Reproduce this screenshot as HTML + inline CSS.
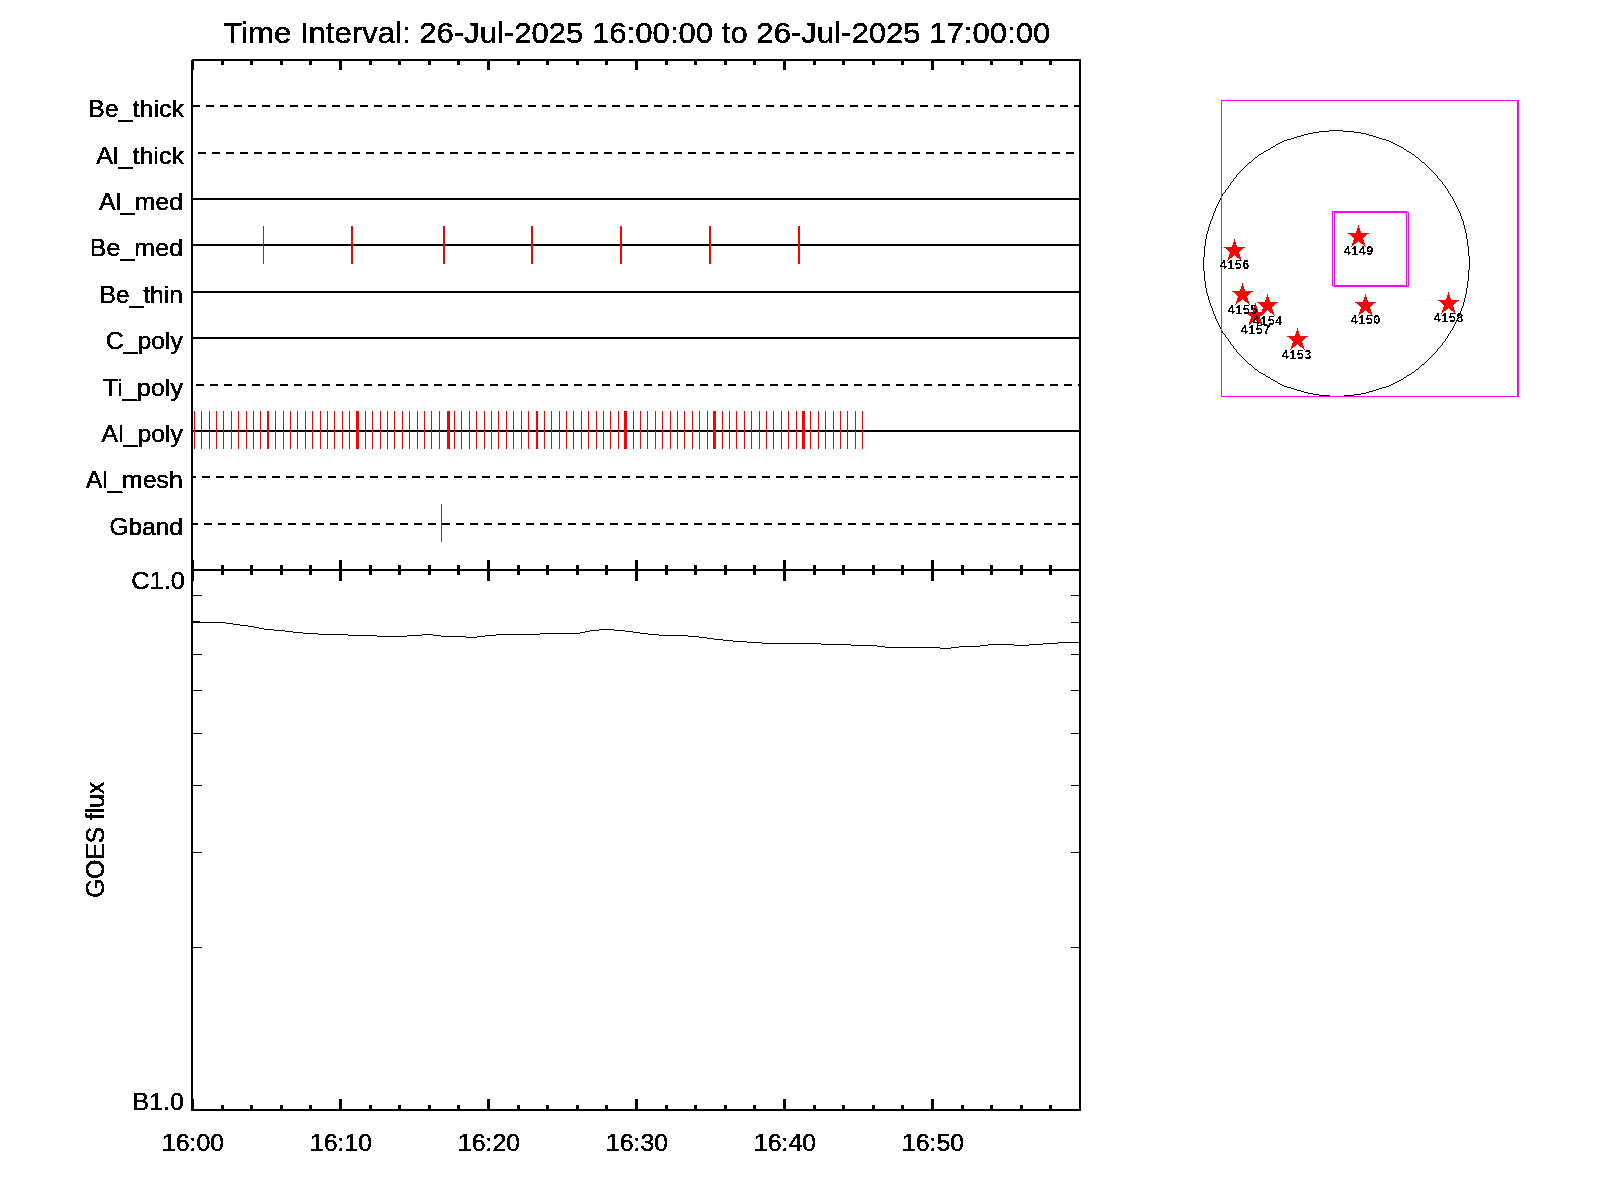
<!DOCTYPE html>
<html><head><meta charset="utf-8"><title>Time Interval: 26-Jul-2025 16:00:00 to 26-Jul-2025 17:00:00</title><style>
html,body{margin:0;padding:0;background:#fff;overflow:hidden;}
svg{display:block;}
.t text{font-family:"Liberation Sans",Arial,Helvetica,sans-serif;fill:#000;}
.s text{font-family:"Liberation Mono","Courier New",monospace;font-weight:bold;fill:#000;}
</style></head><body>
<svg width="1600" height="1200" viewBox="0 0 1600 1200">
<defs><filter id="a1" x="0" y="0" width="1600" height="1200" filterUnits="userSpaceOnUse"><feComponentTransfer><feFuncA type="discrete" tableValues="0 1 1 1 1"/></feComponentTransfer></filter><filter id="a2" x="0" y="0" width="1600" height="1200" filterUnits="userSpaceOnUse"><feComponentTransfer><feFuncA type="discrete" tableValues="0 1"/></feComponentTransfer></filter></defs>
<rect x="0" y="0" width="1600" height="1200" fill="#fff"/>
<g shape-rendering="crispEdges">
<rect x="192" y="59" width="889" height="2" fill="#000"/>
<rect x="191" y="569" width="890" height="2" fill="#000"/>
<rect x="191" y="1109" width="890" height="2" fill="#000"/>
<rect x="191" y="60" width="2" height="1051" fill="#000"/>
<rect x="1079" y="59" width="2" height="1052" fill="#000"/>
<rect x="191" y="60" width="3" height="10" fill="#000"/>
<rect x="191" y="560" width="3" height="21" fill="#000"/>
<rect x="191" y="1099" width="3" height="12" fill="#000"/>
<rect x="221" y="59" width="3" height="6" fill="#000"/>
<rect x="221" y="565" width="3" height="10" fill="#000"/>
<rect x="221" y="1105" width="3" height="6" fill="#000"/>
<rect x="250" y="59" width="3" height="6" fill="#000"/>
<rect x="250" y="565" width="3" height="10" fill="#000"/>
<rect x="250" y="1105" width="3" height="6" fill="#000"/>
<rect x="280" y="59" width="3" height="6" fill="#000"/>
<rect x="280" y="565" width="3" height="10" fill="#000"/>
<rect x="280" y="1105" width="3" height="6" fill="#000"/>
<rect x="309" y="59" width="3" height="6" fill="#000"/>
<rect x="309" y="565" width="3" height="10" fill="#000"/>
<rect x="309" y="1105" width="3" height="6" fill="#000"/>
<rect x="339" y="59" width="3" height="11" fill="#000"/>
<rect x="339" y="560" width="3" height="21" fill="#000"/>
<rect x="339" y="1099" width="3" height="12" fill="#000"/>
<rect x="369" y="59" width="3" height="6" fill="#000"/>
<rect x="369" y="565" width="3" height="10" fill="#000"/>
<rect x="369" y="1105" width="3" height="6" fill="#000"/>
<rect x="398" y="59" width="3" height="6" fill="#000"/>
<rect x="398" y="565" width="3" height="10" fill="#000"/>
<rect x="398" y="1105" width="3" height="6" fill="#000"/>
<rect x="428" y="59" width="3" height="6" fill="#000"/>
<rect x="428" y="565" width="3" height="10" fill="#000"/>
<rect x="428" y="1105" width="3" height="6" fill="#000"/>
<rect x="457" y="59" width="3" height="6" fill="#000"/>
<rect x="457" y="565" width="3" height="10" fill="#000"/>
<rect x="457" y="1105" width="3" height="6" fill="#000"/>
<rect x="487" y="59" width="3" height="11" fill="#000"/>
<rect x="487" y="560" width="3" height="21" fill="#000"/>
<rect x="487" y="1099" width="3" height="12" fill="#000"/>
<rect x="517" y="59" width="3" height="6" fill="#000"/>
<rect x="517" y="565" width="3" height="10" fill="#000"/>
<rect x="517" y="1105" width="3" height="6" fill="#000"/>
<rect x="546" y="59" width="3" height="6" fill="#000"/>
<rect x="546" y="565" width="3" height="10" fill="#000"/>
<rect x="546" y="1105" width="3" height="6" fill="#000"/>
<rect x="576" y="59" width="3" height="6" fill="#000"/>
<rect x="576" y="565" width="3" height="10" fill="#000"/>
<rect x="576" y="1105" width="3" height="6" fill="#000"/>
<rect x="605" y="59" width="3" height="6" fill="#000"/>
<rect x="605" y="565" width="3" height="10" fill="#000"/>
<rect x="605" y="1105" width="3" height="6" fill="#000"/>
<rect x="635" y="59" width="3" height="11" fill="#000"/>
<rect x="635" y="560" width="3" height="21" fill="#000"/>
<rect x="635" y="1099" width="3" height="12" fill="#000"/>
<rect x="665" y="59" width="3" height="6" fill="#000"/>
<rect x="665" y="565" width="3" height="10" fill="#000"/>
<rect x="665" y="1105" width="3" height="6" fill="#000"/>
<rect x="694" y="59" width="3" height="6" fill="#000"/>
<rect x="694" y="565" width="3" height="10" fill="#000"/>
<rect x="694" y="1105" width="3" height="6" fill="#000"/>
<rect x="724" y="59" width="3" height="6" fill="#000"/>
<rect x="724" y="565" width="3" height="10" fill="#000"/>
<rect x="724" y="1105" width="3" height="6" fill="#000"/>
<rect x="753" y="59" width="3" height="6" fill="#000"/>
<rect x="753" y="565" width="3" height="10" fill="#000"/>
<rect x="753" y="1105" width="3" height="6" fill="#000"/>
<rect x="783" y="59" width="3" height="11" fill="#000"/>
<rect x="783" y="560" width="3" height="21" fill="#000"/>
<rect x="783" y="1099" width="3" height="12" fill="#000"/>
<rect x="813" y="59" width="3" height="6" fill="#000"/>
<rect x="813" y="565" width="3" height="10" fill="#000"/>
<rect x="813" y="1105" width="3" height="6" fill="#000"/>
<rect x="842" y="59" width="3" height="6" fill="#000"/>
<rect x="842" y="565" width="3" height="10" fill="#000"/>
<rect x="842" y="1105" width="3" height="6" fill="#000"/>
<rect x="872" y="59" width="3" height="6" fill="#000"/>
<rect x="872" y="565" width="3" height="10" fill="#000"/>
<rect x="872" y="1105" width="3" height="6" fill="#000"/>
<rect x="901" y="59" width="3" height="6" fill="#000"/>
<rect x="901" y="565" width="3" height="10" fill="#000"/>
<rect x="901" y="1105" width="3" height="6" fill="#000"/>
<rect x="931" y="59" width="3" height="11" fill="#000"/>
<rect x="931" y="560" width="3" height="21" fill="#000"/>
<rect x="931" y="1099" width="3" height="12" fill="#000"/>
<rect x="961" y="59" width="3" height="6" fill="#000"/>
<rect x="961" y="565" width="3" height="10" fill="#000"/>
<rect x="961" y="1105" width="3" height="6" fill="#000"/>
<rect x="990" y="59" width="3" height="6" fill="#000"/>
<rect x="990" y="565" width="3" height="10" fill="#000"/>
<rect x="990" y="1105" width="3" height="6" fill="#000"/>
<rect x="1020" y="59" width="3" height="6" fill="#000"/>
<rect x="1020" y="565" width="3" height="10" fill="#000"/>
<rect x="1020" y="1105" width="3" height="6" fill="#000"/>
<rect x="1049" y="59" width="3" height="6" fill="#000"/>
<rect x="1049" y="565" width="3" height="10" fill="#000"/>
<rect x="1049" y="1105" width="3" height="6" fill="#000"/>
<rect x="193" y="105" width="7" height="2" fill="#000"/>
<rect x="206" y="105" width="8" height="2" fill="#000"/>
<rect x="220" y="105" width="8" height="2" fill="#000"/>
<rect x="234" y="105" width="8" height="2" fill="#000"/>
<rect x="248" y="105" width="8" height="2" fill="#000"/>
<rect x="262" y="105" width="8" height="2" fill="#000"/>
<rect x="276" y="105" width="8" height="2" fill="#000"/>
<rect x="290" y="105" width="8" height="2" fill="#000"/>
<rect x="304" y="105" width="8" height="2" fill="#000"/>
<rect x="318" y="105" width="8" height="2" fill="#000"/>
<rect x="332" y="105" width="8" height="2" fill="#000"/>
<rect x="346" y="105" width="8" height="2" fill="#000"/>
<rect x="360" y="105" width="8" height="2" fill="#000"/>
<rect x="374" y="105" width="8" height="2" fill="#000"/>
<rect x="388" y="105" width="8" height="2" fill="#000"/>
<rect x="402" y="105" width="8" height="2" fill="#000"/>
<rect x="416" y="105" width="8" height="2" fill="#000"/>
<rect x="430" y="105" width="8" height="2" fill="#000"/>
<rect x="444" y="105" width="8" height="2" fill="#000"/>
<rect x="458" y="105" width="8" height="2" fill="#000"/>
<rect x="472" y="105" width="8" height="2" fill="#000"/>
<rect x="486" y="105" width="8" height="2" fill="#000"/>
<rect x="500" y="105" width="8" height="2" fill="#000"/>
<rect x="514" y="105" width="8" height="2" fill="#000"/>
<rect x="528" y="105" width="8" height="2" fill="#000"/>
<rect x="542" y="105" width="8" height="2" fill="#000"/>
<rect x="556" y="105" width="8" height="2" fill="#000"/>
<rect x="570" y="105" width="8" height="2" fill="#000"/>
<rect x="584" y="105" width="8" height="2" fill="#000"/>
<rect x="598" y="105" width="8" height="2" fill="#000"/>
<rect x="612" y="105" width="8" height="2" fill="#000"/>
<rect x="626" y="105" width="8" height="2" fill="#000"/>
<rect x="640" y="105" width="8" height="2" fill="#000"/>
<rect x="654" y="105" width="8" height="2" fill="#000"/>
<rect x="668" y="105" width="8" height="2" fill="#000"/>
<rect x="682" y="105" width="8" height="2" fill="#000"/>
<rect x="696" y="105" width="8" height="2" fill="#000"/>
<rect x="710" y="105" width="8" height="2" fill="#000"/>
<rect x="724" y="105" width="8" height="2" fill="#000"/>
<rect x="738" y="105" width="8" height="2" fill="#000"/>
<rect x="752" y="105" width="8" height="2" fill="#000"/>
<rect x="766" y="105" width="8" height="2" fill="#000"/>
<rect x="780" y="105" width="8" height="2" fill="#000"/>
<rect x="794" y="105" width="8" height="2" fill="#000"/>
<rect x="808" y="105" width="8" height="2" fill="#000"/>
<rect x="822" y="105" width="8" height="2" fill="#000"/>
<rect x="836" y="105" width="8" height="2" fill="#000"/>
<rect x="850" y="105" width="8" height="2" fill="#000"/>
<rect x="864" y="105" width="8" height="2" fill="#000"/>
<rect x="878" y="105" width="8" height="2" fill="#000"/>
<rect x="892" y="105" width="8" height="2" fill="#000"/>
<rect x="906" y="105" width="8" height="2" fill="#000"/>
<rect x="920" y="105" width="8" height="2" fill="#000"/>
<rect x="934" y="105" width="8" height="2" fill="#000"/>
<rect x="948" y="105" width="8" height="2" fill="#000"/>
<rect x="962" y="105" width="8" height="2" fill="#000"/>
<rect x="976" y="105" width="8" height="2" fill="#000"/>
<rect x="990" y="105" width="8" height="2" fill="#000"/>
<rect x="1004" y="105" width="8" height="2" fill="#000"/>
<rect x="1018" y="105" width="8" height="2" fill="#000"/>
<rect x="1032" y="105" width="8" height="2" fill="#000"/>
<rect x="1046" y="105" width="8" height="2" fill="#000"/>
<rect x="1060" y="105" width="8" height="2" fill="#000"/>
<rect x="1074" y="105" width="5" height="2" fill="#000"/>
<rect x="198" y="152" width="8" height="2" fill="#000"/>
<rect x="212" y="152" width="8" height="2" fill="#000"/>
<rect x="226" y="152" width="8" height="2" fill="#000"/>
<rect x="240" y="152" width="8" height="2" fill="#000"/>
<rect x="254" y="152" width="8" height="2" fill="#000"/>
<rect x="268" y="152" width="8" height="2" fill="#000"/>
<rect x="282" y="152" width="8" height="2" fill="#000"/>
<rect x="296" y="152" width="8" height="2" fill="#000"/>
<rect x="310" y="152" width="8" height="2" fill="#000"/>
<rect x="324" y="152" width="8" height="2" fill="#000"/>
<rect x="338" y="152" width="8" height="2" fill="#000"/>
<rect x="352" y="152" width="8" height="2" fill="#000"/>
<rect x="366" y="152" width="8" height="2" fill="#000"/>
<rect x="380" y="152" width="8" height="2" fill="#000"/>
<rect x="394" y="152" width="8" height="2" fill="#000"/>
<rect x="408" y="152" width="8" height="2" fill="#000"/>
<rect x="422" y="152" width="8" height="2" fill="#000"/>
<rect x="436" y="152" width="8" height="2" fill="#000"/>
<rect x="450" y="152" width="8" height="2" fill="#000"/>
<rect x="464" y="152" width="8" height="2" fill="#000"/>
<rect x="478" y="152" width="8" height="2" fill="#000"/>
<rect x="492" y="152" width="8" height="2" fill="#000"/>
<rect x="506" y="152" width="8" height="2" fill="#000"/>
<rect x="520" y="152" width="8" height="2" fill="#000"/>
<rect x="534" y="152" width="8" height="2" fill="#000"/>
<rect x="548" y="152" width="8" height="2" fill="#000"/>
<rect x="562" y="152" width="8" height="2" fill="#000"/>
<rect x="576" y="152" width="8" height="2" fill="#000"/>
<rect x="590" y="152" width="8" height="2" fill="#000"/>
<rect x="604" y="152" width="8" height="2" fill="#000"/>
<rect x="618" y="152" width="8" height="2" fill="#000"/>
<rect x="632" y="152" width="8" height="2" fill="#000"/>
<rect x="646" y="152" width="8" height="2" fill="#000"/>
<rect x="660" y="152" width="8" height="2" fill="#000"/>
<rect x="674" y="152" width="8" height="2" fill="#000"/>
<rect x="688" y="152" width="8" height="2" fill="#000"/>
<rect x="702" y="152" width="8" height="2" fill="#000"/>
<rect x="716" y="152" width="8" height="2" fill="#000"/>
<rect x="730" y="152" width="8" height="2" fill="#000"/>
<rect x="744" y="152" width="8" height="2" fill="#000"/>
<rect x="758" y="152" width="8" height="2" fill="#000"/>
<rect x="772" y="152" width="8" height="2" fill="#000"/>
<rect x="786" y="152" width="8" height="2" fill="#000"/>
<rect x="800" y="152" width="8" height="2" fill="#000"/>
<rect x="814" y="152" width="8" height="2" fill="#000"/>
<rect x="828" y="152" width="8" height="2" fill="#000"/>
<rect x="842" y="152" width="8" height="2" fill="#000"/>
<rect x="856" y="152" width="8" height="2" fill="#000"/>
<rect x="870" y="152" width="8" height="2" fill="#000"/>
<rect x="884" y="152" width="8" height="2" fill="#000"/>
<rect x="898" y="152" width="8" height="2" fill="#000"/>
<rect x="912" y="152" width="8" height="2" fill="#000"/>
<rect x="926" y="152" width="8" height="2" fill="#000"/>
<rect x="940" y="152" width="8" height="2" fill="#000"/>
<rect x="954" y="152" width="8" height="2" fill="#000"/>
<rect x="968" y="152" width="8" height="2" fill="#000"/>
<rect x="982" y="152" width="8" height="2" fill="#000"/>
<rect x="996" y="152" width="8" height="2" fill="#000"/>
<rect x="1010" y="152" width="8" height="2" fill="#000"/>
<rect x="1024" y="152" width="8" height="2" fill="#000"/>
<rect x="1038" y="152" width="8" height="2" fill="#000"/>
<rect x="1052" y="152" width="8" height="2" fill="#000"/>
<rect x="1066" y="152" width="8" height="2" fill="#000"/>
<rect x="193" y="198" width="886" height="2" fill="#000"/>
<rect x="193" y="244" width="886" height="2" fill="#000"/>
<rect x="193" y="291" width="886" height="2" fill="#000"/>
<rect x="193" y="337" width="886" height="2" fill="#000"/>
<rect x="196" y="384" width="8" height="2" fill="#000"/>
<rect x="210" y="384" width="8" height="2" fill="#000"/>
<rect x="224" y="384" width="8" height="2" fill="#000"/>
<rect x="238" y="384" width="8" height="2" fill="#000"/>
<rect x="252" y="384" width="8" height="2" fill="#000"/>
<rect x="266" y="384" width="8" height="2" fill="#000"/>
<rect x="280" y="384" width="8" height="2" fill="#000"/>
<rect x="294" y="384" width="8" height="2" fill="#000"/>
<rect x="308" y="384" width="8" height="2" fill="#000"/>
<rect x="322" y="384" width="8" height="2" fill="#000"/>
<rect x="336" y="384" width="8" height="2" fill="#000"/>
<rect x="350" y="384" width="8" height="2" fill="#000"/>
<rect x="364" y="384" width="8" height="2" fill="#000"/>
<rect x="378" y="384" width="8" height="2" fill="#000"/>
<rect x="392" y="384" width="8" height="2" fill="#000"/>
<rect x="406" y="384" width="8" height="2" fill="#000"/>
<rect x="420" y="384" width="8" height="2" fill="#000"/>
<rect x="434" y="384" width="8" height="2" fill="#000"/>
<rect x="448" y="384" width="8" height="2" fill="#000"/>
<rect x="462" y="384" width="8" height="2" fill="#000"/>
<rect x="476" y="384" width="8" height="2" fill="#000"/>
<rect x="490" y="384" width="8" height="2" fill="#000"/>
<rect x="504" y="384" width="8" height="2" fill="#000"/>
<rect x="518" y="384" width="8" height="2" fill="#000"/>
<rect x="532" y="384" width="8" height="2" fill="#000"/>
<rect x="546" y="384" width="8" height="2" fill="#000"/>
<rect x="560" y="384" width="8" height="2" fill="#000"/>
<rect x="574" y="384" width="8" height="2" fill="#000"/>
<rect x="588" y="384" width="8" height="2" fill="#000"/>
<rect x="602" y="384" width="8" height="2" fill="#000"/>
<rect x="616" y="384" width="8" height="2" fill="#000"/>
<rect x="630" y="384" width="8" height="2" fill="#000"/>
<rect x="644" y="384" width="8" height="2" fill="#000"/>
<rect x="658" y="384" width="8" height="2" fill="#000"/>
<rect x="672" y="384" width="8" height="2" fill="#000"/>
<rect x="686" y="384" width="8" height="2" fill="#000"/>
<rect x="700" y="384" width="8" height="2" fill="#000"/>
<rect x="714" y="384" width="8" height="2" fill="#000"/>
<rect x="728" y="384" width="8" height="2" fill="#000"/>
<rect x="742" y="384" width="8" height="2" fill="#000"/>
<rect x="756" y="384" width="8" height="2" fill="#000"/>
<rect x="770" y="384" width="8" height="2" fill="#000"/>
<rect x="784" y="384" width="8" height="2" fill="#000"/>
<rect x="798" y="384" width="8" height="2" fill="#000"/>
<rect x="812" y="384" width="8" height="2" fill="#000"/>
<rect x="826" y="384" width="8" height="2" fill="#000"/>
<rect x="840" y="384" width="8" height="2" fill="#000"/>
<rect x="854" y="384" width="8" height="2" fill="#000"/>
<rect x="868" y="384" width="8" height="2" fill="#000"/>
<rect x="882" y="384" width="8" height="2" fill="#000"/>
<rect x="896" y="384" width="8" height="2" fill="#000"/>
<rect x="910" y="384" width="8" height="2" fill="#000"/>
<rect x="924" y="384" width="8" height="2" fill="#000"/>
<rect x="938" y="384" width="8" height="2" fill="#000"/>
<rect x="952" y="384" width="8" height="2" fill="#000"/>
<rect x="966" y="384" width="8" height="2" fill="#000"/>
<rect x="980" y="384" width="8" height="2" fill="#000"/>
<rect x="994" y="384" width="8" height="2" fill="#000"/>
<rect x="1008" y="384" width="8" height="2" fill="#000"/>
<rect x="1022" y="384" width="8" height="2" fill="#000"/>
<rect x="1036" y="384" width="8" height="2" fill="#000"/>
<rect x="1050" y="384" width="8" height="2" fill="#000"/>
<rect x="1064" y="384" width="8" height="2" fill="#000"/>
<rect x="1078" y="384" width="1" height="2" fill="#000"/>
<rect x="193" y="430" width="886" height="2" fill="#000"/>
<rect x="193" y="476" width="3" height="2" fill="#000"/>
<rect x="202" y="476" width="8" height="2" fill="#000"/>
<rect x="216" y="476" width="8" height="2" fill="#000"/>
<rect x="230" y="476" width="8" height="2" fill="#000"/>
<rect x="244" y="476" width="8" height="2" fill="#000"/>
<rect x="258" y="476" width="8" height="2" fill="#000"/>
<rect x="272" y="476" width="8" height="2" fill="#000"/>
<rect x="286" y="476" width="8" height="2" fill="#000"/>
<rect x="300" y="476" width="8" height="2" fill="#000"/>
<rect x="314" y="476" width="8" height="2" fill="#000"/>
<rect x="328" y="476" width="8" height="2" fill="#000"/>
<rect x="342" y="476" width="8" height="2" fill="#000"/>
<rect x="356" y="476" width="8" height="2" fill="#000"/>
<rect x="370" y="476" width="8" height="2" fill="#000"/>
<rect x="384" y="476" width="8" height="2" fill="#000"/>
<rect x="398" y="476" width="8" height="2" fill="#000"/>
<rect x="412" y="476" width="8" height="2" fill="#000"/>
<rect x="426" y="476" width="8" height="2" fill="#000"/>
<rect x="440" y="476" width="8" height="2" fill="#000"/>
<rect x="454" y="476" width="8" height="2" fill="#000"/>
<rect x="468" y="476" width="8" height="2" fill="#000"/>
<rect x="482" y="476" width="8" height="2" fill="#000"/>
<rect x="496" y="476" width="8" height="2" fill="#000"/>
<rect x="510" y="476" width="8" height="2" fill="#000"/>
<rect x="524" y="476" width="8" height="2" fill="#000"/>
<rect x="538" y="476" width="8" height="2" fill="#000"/>
<rect x="552" y="476" width="8" height="2" fill="#000"/>
<rect x="566" y="476" width="8" height="2" fill="#000"/>
<rect x="580" y="476" width="8" height="2" fill="#000"/>
<rect x="594" y="476" width="8" height="2" fill="#000"/>
<rect x="608" y="476" width="8" height="2" fill="#000"/>
<rect x="622" y="476" width="8" height="2" fill="#000"/>
<rect x="636" y="476" width="8" height="2" fill="#000"/>
<rect x="650" y="476" width="8" height="2" fill="#000"/>
<rect x="664" y="476" width="8" height="2" fill="#000"/>
<rect x="678" y="476" width="8" height="2" fill="#000"/>
<rect x="692" y="476" width="8" height="2" fill="#000"/>
<rect x="706" y="476" width="8" height="2" fill="#000"/>
<rect x="720" y="476" width="8" height="2" fill="#000"/>
<rect x="734" y="476" width="8" height="2" fill="#000"/>
<rect x="748" y="476" width="8" height="2" fill="#000"/>
<rect x="762" y="476" width="8" height="2" fill="#000"/>
<rect x="776" y="476" width="8" height="2" fill="#000"/>
<rect x="790" y="476" width="8" height="2" fill="#000"/>
<rect x="804" y="476" width="8" height="2" fill="#000"/>
<rect x="818" y="476" width="8" height="2" fill="#000"/>
<rect x="832" y="476" width="8" height="2" fill="#000"/>
<rect x="846" y="476" width="8" height="2" fill="#000"/>
<rect x="860" y="476" width="8" height="2" fill="#000"/>
<rect x="874" y="476" width="8" height="2" fill="#000"/>
<rect x="888" y="476" width="8" height="2" fill="#000"/>
<rect x="902" y="476" width="8" height="2" fill="#000"/>
<rect x="916" y="476" width="8" height="2" fill="#000"/>
<rect x="930" y="476" width="8" height="2" fill="#000"/>
<rect x="944" y="476" width="8" height="2" fill="#000"/>
<rect x="958" y="476" width="8" height="2" fill="#000"/>
<rect x="972" y="476" width="8" height="2" fill="#000"/>
<rect x="986" y="476" width="8" height="2" fill="#000"/>
<rect x="1000" y="476" width="8" height="2" fill="#000"/>
<rect x="1014" y="476" width="8" height="2" fill="#000"/>
<rect x="1028" y="476" width="8" height="2" fill="#000"/>
<rect x="1042" y="476" width="8" height="2" fill="#000"/>
<rect x="1056" y="476" width="8" height="2" fill="#000"/>
<rect x="1070" y="476" width="8" height="2" fill="#000"/>
<rect x="193" y="523" width="5" height="2" fill="#000"/>
<rect x="204" y="523" width="8" height="2" fill="#000"/>
<rect x="218" y="523" width="8" height="2" fill="#000"/>
<rect x="232" y="523" width="8" height="2" fill="#000"/>
<rect x="246" y="523" width="8" height="2" fill="#000"/>
<rect x="260" y="523" width="8" height="2" fill="#000"/>
<rect x="274" y="523" width="8" height="2" fill="#000"/>
<rect x="288" y="523" width="8" height="2" fill="#000"/>
<rect x="302" y="523" width="8" height="2" fill="#000"/>
<rect x="316" y="523" width="8" height="2" fill="#000"/>
<rect x="330" y="523" width="8" height="2" fill="#000"/>
<rect x="344" y="523" width="8" height="2" fill="#000"/>
<rect x="358" y="523" width="8" height="2" fill="#000"/>
<rect x="372" y="523" width="8" height="2" fill="#000"/>
<rect x="386" y="523" width="8" height="2" fill="#000"/>
<rect x="400" y="523" width="8" height="2" fill="#000"/>
<rect x="414" y="523" width="8" height="2" fill="#000"/>
<rect x="428" y="523" width="8" height="2" fill="#000"/>
<rect x="442" y="523" width="8" height="2" fill="#000"/>
<rect x="456" y="523" width="8" height="2" fill="#000"/>
<rect x="470" y="523" width="8" height="2" fill="#000"/>
<rect x="484" y="523" width="8" height="2" fill="#000"/>
<rect x="498" y="523" width="8" height="2" fill="#000"/>
<rect x="512" y="523" width="8" height="2" fill="#000"/>
<rect x="526" y="523" width="8" height="2" fill="#000"/>
<rect x="540" y="523" width="8" height="2" fill="#000"/>
<rect x="554" y="523" width="8" height="2" fill="#000"/>
<rect x="568" y="523" width="8" height="2" fill="#000"/>
<rect x="582" y="523" width="8" height="2" fill="#000"/>
<rect x="596" y="523" width="8" height="2" fill="#000"/>
<rect x="610" y="523" width="8" height="2" fill="#000"/>
<rect x="624" y="523" width="8" height="2" fill="#000"/>
<rect x="638" y="523" width="8" height="2" fill="#000"/>
<rect x="652" y="523" width="8" height="2" fill="#000"/>
<rect x="666" y="523" width="8" height="2" fill="#000"/>
<rect x="680" y="523" width="8" height="2" fill="#000"/>
<rect x="694" y="523" width="8" height="2" fill="#000"/>
<rect x="708" y="523" width="8" height="2" fill="#000"/>
<rect x="722" y="523" width="8" height="2" fill="#000"/>
<rect x="736" y="523" width="8" height="2" fill="#000"/>
<rect x="750" y="523" width="8" height="2" fill="#000"/>
<rect x="764" y="523" width="8" height="2" fill="#000"/>
<rect x="778" y="523" width="8" height="2" fill="#000"/>
<rect x="792" y="523" width="8" height="2" fill="#000"/>
<rect x="806" y="523" width="8" height="2" fill="#000"/>
<rect x="820" y="523" width="8" height="2" fill="#000"/>
<rect x="834" y="523" width="8" height="2" fill="#000"/>
<rect x="848" y="523" width="8" height="2" fill="#000"/>
<rect x="862" y="523" width="8" height="2" fill="#000"/>
<rect x="876" y="523" width="8" height="2" fill="#000"/>
<rect x="890" y="523" width="8" height="2" fill="#000"/>
<rect x="904" y="523" width="8" height="2" fill="#000"/>
<rect x="918" y="523" width="8" height="2" fill="#000"/>
<rect x="932" y="523" width="8" height="2" fill="#000"/>
<rect x="946" y="523" width="8" height="2" fill="#000"/>
<rect x="960" y="523" width="8" height="2" fill="#000"/>
<rect x="974" y="523" width="8" height="2" fill="#000"/>
<rect x="988" y="523" width="8" height="2" fill="#000"/>
<rect x="1002" y="523" width="8" height="2" fill="#000"/>
<rect x="1016" y="523" width="8" height="2" fill="#000"/>
<rect x="1030" y="523" width="8" height="2" fill="#000"/>
<rect x="1044" y="523" width="8" height="2" fill="#000"/>
<rect x="1058" y="523" width="8" height="2" fill="#000"/>
<rect x="1072" y="523" width="7" height="2" fill="#000"/>
<rect x="263" y="226" width="1" height="38" fill="#ff0000"/>
<rect x="351" y="226" width="2" height="38" fill="#ff0000"/>
<rect x="443" y="226" width="2" height="38" fill="#ff0000"/>
<rect x="531" y="226" width="2" height="38" fill="#ff0000"/>
<rect x="620" y="226" width="2" height="38" fill="#ff0000"/>
<rect x="709" y="226" width="2" height="38" fill="#ff0000"/>
<rect x="798" y="226" width="2" height="38" fill="#ff0000"/>
<rect x="194" y="411" width="1" height="38" fill="#ff0000"/>
<rect x="201" y="411" width="1" height="38" fill="#ff0000"/>
<rect x="209" y="411" width="1" height="38" fill="#ff0000"/>
<rect x="216" y="411" width="1" height="38" fill="#ff0000"/>
<rect x="223" y="411" width="1" height="38" fill="#ff0000"/>
<rect x="231" y="411" width="1" height="38" fill="#ff0000"/>
<rect x="238" y="411" width="1" height="38" fill="#ff0000"/>
<rect x="246" y="411" width="1" height="38" fill="#ff0000"/>
<rect x="253" y="411" width="1" height="38" fill="#ff0000"/>
<rect x="260" y="411" width="1" height="38" fill="#ff0000"/>
<rect x="275" y="411" width="1" height="38" fill="#ff0000"/>
<rect x="283" y="411" width="1" height="38" fill="#ff0000"/>
<rect x="290" y="411" width="1" height="38" fill="#ff0000"/>
<rect x="297" y="411" width="1" height="38" fill="#ff0000"/>
<rect x="305" y="411" width="1" height="38" fill="#ff0000"/>
<rect x="312" y="411" width="1" height="38" fill="#ff0000"/>
<rect x="320" y="411" width="1" height="38" fill="#ff0000"/>
<rect x="327" y="411" width="1" height="38" fill="#ff0000"/>
<rect x="334" y="411" width="1" height="38" fill="#ff0000"/>
<rect x="342" y="411" width="1" height="38" fill="#ff0000"/>
<rect x="349" y="411" width="1" height="38" fill="#ff0000"/>
<rect x="365" y="411" width="1" height="38" fill="#ff0000"/>
<rect x="372" y="411" width="1" height="38" fill="#ff0000"/>
<rect x="380" y="411" width="1" height="38" fill="#ff0000"/>
<rect x="387" y="411" width="1" height="38" fill="#ff0000"/>
<rect x="394" y="411" width="1" height="38" fill="#ff0000"/>
<rect x="402" y="411" width="1" height="38" fill="#ff0000"/>
<rect x="409" y="411" width="1" height="38" fill="#ff0000"/>
<rect x="417" y="411" width="1" height="38" fill="#ff0000"/>
<rect x="424" y="411" width="1" height="38" fill="#ff0000"/>
<rect x="431" y="411" width="1" height="38" fill="#ff0000"/>
<rect x="439" y="411" width="1" height="38" fill="#ff0000"/>
<rect x="454" y="411" width="1" height="38" fill="#ff0000"/>
<rect x="461" y="411" width="1" height="38" fill="#ff0000"/>
<rect x="469" y="411" width="1" height="38" fill="#ff0000"/>
<rect x="476" y="411" width="1" height="38" fill="#ff0000"/>
<rect x="484" y="411" width="1" height="38" fill="#ff0000"/>
<rect x="491" y="411" width="1" height="38" fill="#ff0000"/>
<rect x="498" y="411" width="1" height="38" fill="#ff0000"/>
<rect x="506" y="411" width="1" height="38" fill="#ff0000"/>
<rect x="513" y="411" width="1" height="38" fill="#ff0000"/>
<rect x="521" y="411" width="1" height="38" fill="#ff0000"/>
<rect x="528" y="411" width="1" height="38" fill="#ff0000"/>
<rect x="544" y="411" width="1" height="38" fill="#ff0000"/>
<rect x="551" y="411" width="1" height="38" fill="#ff0000"/>
<rect x="559" y="411" width="1" height="38" fill="#ff0000"/>
<rect x="566" y="411" width="1" height="38" fill="#ff0000"/>
<rect x="573" y="411" width="1" height="38" fill="#ff0000"/>
<rect x="581" y="411" width="1" height="38" fill="#ff0000"/>
<rect x="588" y="411" width="1" height="38" fill="#ff0000"/>
<rect x="596" y="411" width="1" height="38" fill="#ff0000"/>
<rect x="603" y="411" width="1" height="38" fill="#ff0000"/>
<rect x="610" y="411" width="1" height="38" fill="#ff0000"/>
<rect x="618" y="411" width="1" height="38" fill="#ff0000"/>
<rect x="633" y="411" width="1" height="38" fill="#ff0000"/>
<rect x="640" y="411" width="1" height="38" fill="#ff0000"/>
<rect x="647" y="411" width="1" height="38" fill="#ff0000"/>
<rect x="655" y="411" width="1" height="38" fill="#ff0000"/>
<rect x="662" y="411" width="1" height="38" fill="#ff0000"/>
<rect x="670" y="411" width="1" height="38" fill="#ff0000"/>
<rect x="677" y="411" width="1" height="38" fill="#ff0000"/>
<rect x="684" y="411" width="1" height="38" fill="#ff0000"/>
<rect x="692" y="411" width="1" height="38" fill="#ff0000"/>
<rect x="699" y="411" width="1" height="38" fill="#ff0000"/>
<rect x="707" y="411" width="1" height="38" fill="#ff0000"/>
<rect x="722" y="411" width="1" height="38" fill="#ff0000"/>
<rect x="729" y="411" width="1" height="38" fill="#ff0000"/>
<rect x="736" y="411" width="1" height="38" fill="#ff0000"/>
<rect x="744" y="411" width="1" height="38" fill="#ff0000"/>
<rect x="751" y="411" width="1" height="38" fill="#ff0000"/>
<rect x="759" y="411" width="1" height="38" fill="#ff0000"/>
<rect x="766" y="411" width="1" height="38" fill="#ff0000"/>
<rect x="773" y="411" width="1" height="38" fill="#ff0000"/>
<rect x="781" y="411" width="1" height="38" fill="#ff0000"/>
<rect x="788" y="411" width="1" height="38" fill="#ff0000"/>
<rect x="796" y="411" width="1" height="38" fill="#ff0000"/>
<rect x="810" y="411" width="1" height="38" fill="#ff0000"/>
<rect x="818" y="411" width="1" height="38" fill="#ff0000"/>
<rect x="825" y="411" width="1" height="38" fill="#ff0000"/>
<rect x="833" y="411" width="1" height="38" fill="#ff0000"/>
<rect x="840" y="411" width="1" height="38" fill="#ff0000"/>
<rect x="847" y="411" width="1" height="38" fill="#ff0000"/>
<rect x="855" y="411" width="1" height="38" fill="#ff0000"/>
<rect x="862" y="411" width="1" height="38" fill="#ff0000"/>
<rect x="267" y="411" width="2" height="38" fill="#ff0000"/>
<rect x="356" y="411" width="3" height="38" fill="#ff0000"/>
<rect x="447" y="411" width="3" height="38" fill="#ff0000"/>
<rect x="536" y="411" width="2" height="38" fill="#ff0000"/>
<rect x="624" y="411" width="3" height="38" fill="#ff0000"/>
<rect x="713" y="411" width="3" height="38" fill="#ff0000"/>
<rect x="802" y="411" width="3" height="38" fill="#ff0000"/>
<rect x="441" y="504" width="1" height="38" fill="#ff0000"/>
<rect x="193" y="947" width="9" height="1" fill="#000"/>
<rect x="1071" y="947" width="8" height="1" fill="#000"/>
<rect x="193" y="852" width="9" height="1" fill="#000"/>
<rect x="1071" y="852" width="8" height="1" fill="#000"/>
<rect x="193" y="785" width="9" height="1" fill="#000"/>
<rect x="1071" y="785" width="8" height="1" fill="#000"/>
<rect x="193" y="733" width="9" height="1" fill="#000"/>
<rect x="1071" y="733" width="8" height="1" fill="#000"/>
<rect x="193" y="690" width="9" height="1" fill="#000"/>
<rect x="1071" y="690" width="8" height="1" fill="#000"/>
<rect x="193" y="654" width="9" height="1" fill="#000"/>
<rect x="1071" y="654" width="8" height="1" fill="#000"/>
<rect x="193" y="622" width="9" height="1" fill="#000"/>
<rect x="1071" y="622" width="8" height="1" fill="#000"/>
<rect x="193" y="595" width="9" height="1" fill="#000"/>
<rect x="1071" y="595" width="8" height="1" fill="#000"/>
<rect x="192" y="622" width="34" height="1" fill="#000"/>
<rect x="226" y="623" width="7" height="1" fill="#000"/>
<rect x="233" y="624" width="7" height="1" fill="#000"/>
<rect x="240" y="625" width="8" height="1" fill="#000"/>
<rect x="248" y="626" width="6" height="1" fill="#000"/>
<rect x="254" y="627" width="5" height="1" fill="#000"/>
<rect x="259" y="628" width="5" height="1" fill="#000"/>
<rect x="264" y="629" width="10" height="1" fill="#000"/>
<rect x="274" y="630" width="11" height="1" fill="#000"/>
<rect x="285" y="631" width="8" height="1" fill="#000"/>
<rect x="293" y="632" width="10" height="1" fill="#000"/>
<rect x="303" y="633" width="15" height="1" fill="#000"/>
<rect x="318" y="634" width="30" height="1" fill="#000"/>
<rect x="348" y="635" width="29" height="1" fill="#000"/>
<rect x="377" y="636" width="30" height="1" fill="#000"/>
<rect x="407" y="635" width="15" height="1" fill="#000"/>
<rect x="422" y="634" width="11" height="1" fill="#000"/>
<rect x="433" y="635" width="8" height="1" fill="#000"/>
<rect x="441" y="636" width="25" height="1" fill="#000"/>
<rect x="466" y="637" width="11" height="1" fill="#000"/>
<rect x="477" y="636" width="8" height="1" fill="#000"/>
<rect x="485" y="635" width="11" height="1" fill="#000"/>
<rect x="496" y="634" width="44" height="1" fill="#000"/>
<rect x="540" y="633" width="40" height="1" fill="#000"/>
<rect x="580" y="632" width="5" height="1" fill="#000"/>
<rect x="585" y="631" width="5" height="1" fill="#000"/>
<rect x="590" y="630" width="9" height="1" fill="#000"/>
<rect x="599" y="629" width="15" height="1" fill="#000"/>
<rect x="614" y="630" width="11" height="1" fill="#000"/>
<rect x="625" y="631" width="8" height="1" fill="#000"/>
<rect x="633" y="632" width="7" height="1" fill="#000"/>
<rect x="640" y="633" width="8" height="1" fill="#000"/>
<rect x="648" y="634" width="11" height="1" fill="#000"/>
<rect x="659" y="635" width="29" height="1" fill="#000"/>
<rect x="688" y="636" width="11" height="1" fill="#000"/>
<rect x="699" y="637" width="8" height="1" fill="#000"/>
<rect x="707" y="638" width="7" height="1" fill="#000"/>
<rect x="714" y="639" width="9" height="1" fill="#000"/>
<rect x="723" y="640" width="10" height="1" fill="#000"/>
<rect x="733" y="641" width="14" height="1" fill="#000"/>
<rect x="747" y="642" width="15" height="1" fill="#000"/>
<rect x="762" y="643" width="59" height="1" fill="#000"/>
<rect x="821" y="644" width="30" height="1" fill="#000"/>
<rect x="851" y="645" width="26" height="1" fill="#000"/>
<rect x="877" y="646" width="8" height="1" fill="#000"/>
<rect x="885" y="647" width="55" height="1" fill="#000"/>
<rect x="940" y="648" width="11" height="1" fill="#000"/>
<rect x="951" y="647" width="8" height="1" fill="#000"/>
<rect x="959" y="646" width="21" height="1" fill="#000"/>
<rect x="980" y="645" width="8" height="1" fill="#000"/>
<rect x="988" y="644" width="26" height="1" fill="#000"/>
<rect x="1014" y="645" width="15" height="1" fill="#000"/>
<rect x="1029" y="644" width="14" height="1" fill="#000"/>
<rect x="1043" y="643" width="15" height="1" fill="#000"/>
<rect x="1058" y="642" width="21" height="1" fill="#000"/>
<rect x="193" y="621" width="7" height="1" fill="#000"/>
<rect x="1329" y="130" width="14" height="1" fill="#000"/>
<rect x="1319" y="131" width="10" height="1" fill="#000"/>
<rect x="1343" y="131" width="11" height="1" fill="#000"/>
<rect x="1313" y="132" width="6" height="1" fill="#000"/>
<rect x="1354" y="132" width="7" height="1" fill="#000"/>
<rect x="1308" y="133" width="5" height="1" fill="#000"/>
<rect x="1361" y="133" width="5" height="1" fill="#000"/>
<rect x="1304" y="134" width="4" height="1" fill="#000"/>
<rect x="1366" y="134" width="3" height="1" fill="#000"/>
<rect x="1301" y="135" width="3" height="1" fill="#000"/>
<rect x="1369" y="135" width="4" height="1" fill="#000"/>
<rect x="1297" y="136" width="4" height="1" fill="#000"/>
<rect x="1373" y="136" width="3" height="1" fill="#000"/>
<rect x="1294" y="137" width="3" height="1" fill="#000"/>
<rect x="1376" y="137" width="3" height="1" fill="#000"/>
<rect x="1291" y="138" width="3" height="1" fill="#000"/>
<rect x="1379" y="138" width="3" height="1" fill="#000"/>
<rect x="1287" y="139" width="4" height="1" fill="#000"/>
<rect x="1382" y="139" width="4" height="1" fill="#000"/>
<rect x="1284" y="140" width="3" height="1" fill="#000"/>
<rect x="1386" y="140" width="3" height="1" fill="#000"/>
<rect x="1282" y="141" width="2" height="1" fill="#000"/>
<rect x="1389" y="141" width="2" height="1" fill="#000"/>
<rect x="1280" y="142" width="2" height="1" fill="#000"/>
<rect x="1391" y="142" width="2" height="1" fill="#000"/>
<rect x="1278" y="143" width="2" height="1" fill="#000"/>
<rect x="1393" y="143" width="2" height="1" fill="#000"/>
<rect x="1276" y="144" width="2" height="1" fill="#000"/>
<rect x="1395" y="144" width="2" height="1" fill="#000"/>
<rect x="1275" y="145" width="1" height="1" fill="#000"/>
<rect x="1397" y="145" width="2" height="1" fill="#000"/>
<rect x="1273" y="146" width="2" height="1" fill="#000"/>
<rect x="1399" y="146" width="2" height="1" fill="#000"/>
<rect x="1271" y="147" width="2" height="1" fill="#000"/>
<rect x="1401" y="147" width="2" height="1" fill="#000"/>
<rect x="1270" y="148" width="1" height="1" fill="#000"/>
<rect x="1403" y="148" width="1" height="1" fill="#000"/>
<rect x="1268" y="149" width="2" height="1" fill="#000"/>
<rect x="1404" y="149" width="2" height="1" fill="#000"/>
<rect x="1266" y="150" width="2" height="1" fill="#000"/>
<rect x="1406" y="150" width="1" height="1" fill="#000"/>
<rect x="1264" y="151" width="2" height="1" fill="#000"/>
<rect x="1407" y="151" width="2" height="1" fill="#000"/>
<rect x="1263" y="152" width="1" height="1" fill="#000"/>
<rect x="1409" y="152" width="2" height="1" fill="#000"/>
<rect x="1261" y="153" width="2" height="1" fill="#000"/>
<rect x="1411" y="153" width="1" height="1" fill="#000"/>
<rect x="1259" y="154" width="2" height="1" fill="#000"/>
<rect x="1412" y="154" width="2" height="1" fill="#000"/>
<rect x="1258" y="155" width="1" height="1" fill="#000"/>
<rect x="1414" y="155" width="1" height="1" fill="#000"/>
<rect x="1257" y="156" width="1" height="1" fill="#000"/>
<rect x="1415" y="156" width="1" height="1" fill="#000"/>
<rect x="1255" y="157" width="2" height="1" fill="#000"/>
<rect x="1416" y="157" width="2" height="1" fill="#000"/>
<rect x="1254" y="158" width="1" height="1" fill="#000"/>
<rect x="1418" y="158" width="1" height="1" fill="#000"/>
<rect x="1253" y="159" width="1" height="1" fill="#000"/>
<rect x="1419" y="159" width="1" height="1" fill="#000"/>
<rect x="1252" y="160" width="1" height="1" fill="#000"/>
<rect x="1420" y="160" width="1" height="1" fill="#000"/>
<rect x="1251" y="161" width="1" height="1" fill="#000"/>
<rect x="1421" y="161" width="1" height="1" fill="#000"/>
<rect x="1249" y="162" width="2" height="1" fill="#000"/>
<rect x="1422" y="162" width="2" height="1" fill="#000"/>
<rect x="1248" y="163" width="1" height="1" fill="#000"/>
<rect x="1424" y="163" width="1" height="1" fill="#000"/>
<rect x="1247" y="164" width="1" height="1" fill="#000"/>
<rect x="1425" y="164" width="1" height="1" fill="#000"/>
<rect x="1246" y="165" width="1" height="1" fill="#000"/>
<rect x="1426" y="165" width="1" height="1" fill="#000"/>
<rect x="1245" y="166" width="1" height="1" fill="#000"/>
<rect x="1427" y="166" width="1" height="1" fill="#000"/>
<rect x="1244" y="167" width="1" height="1" fill="#000"/>
<rect x="1428" y="167" width="1" height="1" fill="#000"/>
<rect x="1243" y="168" width="1" height="1" fill="#000"/>
<rect x="1429" y="168" width="1" height="1" fill="#000"/>
<rect x="1242" y="169" width="1" height="1" fill="#000"/>
<rect x="1430" y="169" width="1" height="1" fill="#000"/>
<rect x="1241" y="170" width="1" height="1" fill="#000"/>
<rect x="1431" y="170" width="1" height="1" fill="#000"/>
<rect x="1240" y="171" width="1" height="1" fill="#000"/>
<rect x="1432" y="171" width="1" height="1" fill="#000"/>
<rect x="1239" y="172" width="1" height="1" fill="#000"/>
<rect x="1433" y="172" width="1" height="1" fill="#000"/>
<rect x="1238" y="173" width="1" height="1" fill="#000"/>
<rect x="1434" y="173" width="1" height="1" fill="#000"/>
<rect x="1237" y="174" width="1" height="1" fill="#000"/>
<rect x="1435" y="174" width="1" height="1" fill="#000"/>
<rect x="1236" y="175" width="1" height="1" fill="#000"/>
<rect x="1436" y="175" width="1" height="1" fill="#000"/>
<rect x="1236" y="176" width="1" height="1" fill="#000"/>
<rect x="1437" y="176" width="1" height="1" fill="#000"/>
<rect x="1235" y="177" width="1" height="1" fill="#000"/>
<rect x="1437" y="177" width="1" height="1" fill="#000"/>
<rect x="1234" y="178" width="1" height="1" fill="#000"/>
<rect x="1438" y="178" width="1" height="1" fill="#000"/>
<rect x="1233" y="179" width="1" height="1" fill="#000"/>
<rect x="1439" y="179" width="1" height="1" fill="#000"/>
<rect x="1233" y="180" width="1" height="1" fill="#000"/>
<rect x="1440" y="180" width="1" height="1" fill="#000"/>
<rect x="1232" y="181" width="1" height="1" fill="#000"/>
<rect x="1441" y="181" width="1" height="1" fill="#000"/>
<rect x="1231" y="182" width="1" height="1" fill="#000"/>
<rect x="1442" y="182" width="1" height="1" fill="#000"/>
<rect x="1230" y="183" width="1" height="1" fill="#000"/>
<rect x="1442" y="183" width="1" height="1" fill="#000"/>
<rect x="1230" y="184" width="1" height="1" fill="#000"/>
<rect x="1443" y="184" width="1" height="1" fill="#000"/>
<rect x="1229" y="185" width="1" height="1" fill="#000"/>
<rect x="1444" y="185" width="1" height="1" fill="#000"/>
<rect x="1228" y="186" width="1" height="1" fill="#000"/>
<rect x="1445" y="186" width="1" height="1" fill="#000"/>
<rect x="1228" y="187" width="1" height="1" fill="#000"/>
<rect x="1445" y="187" width="1" height="1" fill="#000"/>
<rect x="1227" y="188" width="1" height="1" fill="#000"/>
<rect x="1446" y="188" width="1" height="1" fill="#000"/>
<rect x="1226" y="189" width="1" height="1" fill="#000"/>
<rect x="1447" y="189" width="1" height="1" fill="#000"/>
<rect x="1225" y="190" width="1" height="1" fill="#000"/>
<rect x="1447" y="190" width="1" height="1" fill="#000"/>
<rect x="1225" y="191" width="1" height="1" fill="#000"/>
<rect x="1448" y="191" width="1" height="1" fill="#000"/>
<rect x="1224" y="192" width="1" height="1" fill="#000"/>
<rect x="1448" y="192" width="1" height="1" fill="#000"/>
<rect x="1223" y="193" width="1" height="1" fill="#000"/>
<rect x="1449" y="193" width="1" height="1" fill="#000"/>
<rect x="1222" y="194" width="1" height="1" fill="#000"/>
<rect x="1450" y="194" width="1" height="1" fill="#000"/>
<rect x="1222" y="195" width="1" height="1" fill="#000"/>
<rect x="1450" y="195" width="1" height="1" fill="#000"/>
<rect x="1221" y="196" width="1" height="1" fill="#000"/>
<rect x="1451" y="196" width="1" height="1" fill="#000"/>
<rect x="1221" y="197" width="1" height="1" fill="#000"/>
<rect x="1452" y="197" width="1" height="1" fill="#000"/>
<rect x="1220" y="198" width="1" height="1" fill="#000"/>
<rect x="1452" y="198" width="1" height="1" fill="#000"/>
<rect x="1220" y="199" width="1" height="1" fill="#000"/>
<rect x="1453" y="199" width="1" height="1" fill="#000"/>
<rect x="1219" y="200" width="1" height="1" fill="#000"/>
<rect x="1453" y="200" width="1" height="1" fill="#000"/>
<rect x="1219" y="201" width="1" height="1" fill="#000"/>
<rect x="1454" y="201" width="1" height="1" fill="#000"/>
<rect x="1218" y="202" width="1" height="1" fill="#000"/>
<rect x="1454" y="202" width="1" height="1" fill="#000"/>
<rect x="1218" y="203" width="1" height="1" fill="#000"/>
<rect x="1455" y="203" width="1" height="1" fill="#000"/>
<rect x="1217" y="204" width="1" height="1" fill="#000"/>
<rect x="1455" y="204" width="1" height="1" fill="#000"/>
<rect x="1217" y="205" width="1" height="1" fill="#000"/>
<rect x="1456" y="205" width="1" height="1" fill="#000"/>
<rect x="1216" y="206" width="1" height="1" fill="#000"/>
<rect x="1456" y="206" width="1" height="1" fill="#000"/>
<rect x="1216" y="207" width="1" height="1" fill="#000"/>
<rect x="1457" y="207" width="1" height="1" fill="#000"/>
<rect x="1215" y="208" width="1" height="1" fill="#000"/>
<rect x="1457" y="208" width="1" height="1" fill="#000"/>
<rect x="1215" y="209" width="1" height="1" fill="#000"/>
<rect x="1458" y="209" width="1" height="1" fill="#000"/>
<rect x="1215" y="210" width="1" height="1" fill="#000"/>
<rect x="1458" y="210" width="1" height="1" fill="#000"/>
<rect x="1214" y="211" width="1" height="1" fill="#000"/>
<rect x="1459" y="211" width="1" height="1" fill="#000"/>
<rect x="1214" y="212" width="1" height="1" fill="#000"/>
<rect x="1459" y="212" width="1" height="1" fill="#000"/>
<rect x="1213" y="213" width="1" height="1" fill="#000"/>
<rect x="1460" y="213" width="1" height="1" fill="#000"/>
<rect x="1213" y="214" width="1" height="1" fill="#000"/>
<rect x="1460" y="214" width="1" height="1" fill="#000"/>
<rect x="1213" y="215" width="1" height="1" fill="#000"/>
<rect x="1460" y="215" width="1" height="1" fill="#000"/>
<rect x="1212" y="216" width="1" height="1" fill="#000"/>
<rect x="1461" y="216" width="1" height="1" fill="#000"/>
<rect x="1212" y="217" width="1" height="1" fill="#000"/>
<rect x="1461" y="217" width="1" height="1" fill="#000"/>
<rect x="1212" y="218" width="1" height="1" fill="#000"/>
<rect x="1461" y="218" width="1" height="1" fill="#000"/>
<rect x="1211" y="219" width="1" height="1" fill="#000"/>
<rect x="1462" y="219" width="1" height="1" fill="#000"/>
<rect x="1211" y="220" width="1" height="1" fill="#000"/>
<rect x="1462" y="220" width="1" height="1" fill="#000"/>
<rect x="1210" y="221" width="1" height="1" fill="#000"/>
<rect x="1463" y="221" width="1" height="1" fill="#000"/>
<rect x="1210" y="222" width="1" height="1" fill="#000"/>
<rect x="1463" y="222" width="1" height="1" fill="#000"/>
<rect x="1210" y="223" width="1" height="1" fill="#000"/>
<rect x="1463" y="223" width="1" height="1" fill="#000"/>
<rect x="1209" y="224" width="1" height="1" fill="#000"/>
<rect x="1463" y="224" width="1" height="1" fill="#000"/>
<rect x="1209" y="225" width="1" height="1" fill="#000"/>
<rect x="1464" y="225" width="1" height="1" fill="#000"/>
<rect x="1209" y="226" width="1" height="1" fill="#000"/>
<rect x="1464" y="226" width="1" height="1" fill="#000"/>
<rect x="1208" y="227" width="1" height="1" fill="#000"/>
<rect x="1464" y="227" width="1" height="1" fill="#000"/>
<rect x="1208" y="228" width="1" height="1" fill="#000"/>
<rect x="1464" y="228" width="1" height="1" fill="#000"/>
<rect x="1208" y="229" width="1" height="1" fill="#000"/>
<rect x="1465" y="229" width="1" height="1" fill="#000"/>
<rect x="1208" y="230" width="1" height="1" fill="#000"/>
<rect x="1465" y="230" width="1" height="1" fill="#000"/>
<rect x="1207" y="231" width="1" height="1" fill="#000"/>
<rect x="1465" y="231" width="1" height="1" fill="#000"/>
<rect x="1207" y="232" width="1" height="1" fill="#000"/>
<rect x="1465" y="232" width="1" height="1" fill="#000"/>
<rect x="1207" y="233" width="1" height="1" fill="#000"/>
<rect x="1466" y="233" width="1" height="1" fill="#000"/>
<rect x="1206" y="234" width="1" height="1" fill="#000"/>
<rect x="1466" y="234" width="1" height="1" fill="#000"/>
<rect x="1206" y="235" width="1" height="1" fill="#000"/>
<rect x="1466" y="235" width="1" height="1" fill="#000"/>
<rect x="1206" y="236" width="1" height="1" fill="#000"/>
<rect x="1466" y="236" width="1" height="1" fill="#000"/>
<rect x="1206" y="237" width="1" height="1" fill="#000"/>
<rect x="1466" y="237" width="1" height="1" fill="#000"/>
<rect x="1206" y="238" width="1" height="1" fill="#000"/>
<rect x="1466" y="238" width="1" height="1" fill="#000"/>
<rect x="1205" y="239" width="1" height="1" fill="#000"/>
<rect x="1467" y="239" width="1" height="1" fill="#000"/>
<rect x="1205" y="240" width="1" height="1" fill="#000"/>
<rect x="1467" y="240" width="1" height="1" fill="#000"/>
<rect x="1205" y="241" width="1" height="1" fill="#000"/>
<rect x="1467" y="241" width="1" height="1" fill="#000"/>
<rect x="1205" y="242" width="1" height="1" fill="#000"/>
<rect x="1467" y="242" width="1" height="1" fill="#000"/>
<rect x="1205" y="243" width="1" height="1" fill="#000"/>
<rect x="1467" y="243" width="1" height="1" fill="#000"/>
<rect x="1205" y="244" width="1" height="1" fill="#000"/>
<rect x="1467" y="244" width="1" height="1" fill="#000"/>
<rect x="1205" y="245" width="1" height="1" fill="#000"/>
<rect x="1467" y="245" width="1" height="1" fill="#000"/>
<rect x="1204" y="246" width="1" height="1" fill="#000"/>
<rect x="1468" y="246" width="1" height="1" fill="#000"/>
<rect x="1204" y="247" width="1" height="1" fill="#000"/>
<rect x="1468" y="247" width="1" height="1" fill="#000"/>
<rect x="1204" y="248" width="1" height="1" fill="#000"/>
<rect x="1468" y="248" width="1" height="1" fill="#000"/>
<rect x="1204" y="249" width="1" height="1" fill="#000"/>
<rect x="1468" y="249" width="1" height="1" fill="#000"/>
<rect x="1204" y="250" width="1" height="1" fill="#000"/>
<rect x="1468" y="250" width="1" height="1" fill="#000"/>
<rect x="1204" y="251" width="1" height="1" fill="#000"/>
<rect x="1468" y="251" width="1" height="1" fill="#000"/>
<rect x="1204" y="252" width="1" height="1" fill="#000"/>
<rect x="1468" y="252" width="1" height="1" fill="#000"/>
<rect x="1204" y="253" width="1" height="1" fill="#000"/>
<rect x="1468" y="253" width="1" height="1" fill="#000"/>
<rect x="1204" y="254" width="1" height="1" fill="#000"/>
<rect x="1468" y="254" width="1" height="1" fill="#000"/>
<rect x="1204" y="255" width="1" height="1" fill="#000"/>
<rect x="1468" y="255" width="1" height="1" fill="#000"/>
<rect x="1204" y="256" width="1" height="1" fill="#000"/>
<rect x="1469" y="256" width="1" height="1" fill="#000"/>
<rect x="1203" y="257" width="1" height="1" fill="#000"/>
<rect x="1469" y="257" width="1" height="1" fill="#000"/>
<rect x="1203" y="258" width="1" height="1" fill="#000"/>
<rect x="1469" y="258" width="1" height="1" fill="#000"/>
<rect x="1203" y="259" width="1" height="1" fill="#000"/>
<rect x="1469" y="259" width="1" height="1" fill="#000"/>
<rect x="1203" y="260" width="1" height="1" fill="#000"/>
<rect x="1469" y="260" width="1" height="1" fill="#000"/>
<rect x="1203" y="261" width="1" height="1" fill="#000"/>
<rect x="1469" y="261" width="1" height="1" fill="#000"/>
<rect x="1203" y="262" width="1" height="1" fill="#000"/>
<rect x="1469" y="262" width="1" height="1" fill="#000"/>
<rect x="1203" y="263" width="1" height="1" fill="#000"/>
<rect x="1469" y="263" width="1" height="1" fill="#000"/>
<rect x="1203" y="264" width="1" height="1" fill="#000"/>
<rect x="1469" y="264" width="1" height="1" fill="#000"/>
<rect x="1203" y="265" width="1" height="1" fill="#000"/>
<rect x="1469" y="265" width="1" height="1" fill="#000"/>
<rect x="1203" y="266" width="1" height="1" fill="#000"/>
<rect x="1469" y="266" width="1" height="1" fill="#000"/>
<rect x="1203" y="267" width="1" height="1" fill="#000"/>
<rect x="1469" y="267" width="1" height="1" fill="#000"/>
<rect x="1203" y="268" width="1" height="1" fill="#000"/>
<rect x="1469" y="268" width="1" height="1" fill="#000"/>
<rect x="1203" y="269" width="1" height="1" fill="#000"/>
<rect x="1469" y="269" width="1" height="1" fill="#000"/>
<rect x="1203" y="270" width="1" height="1" fill="#000"/>
<rect x="1468" y="270" width="1" height="1" fill="#000"/>
<rect x="1204" y="271" width="1" height="1" fill="#000"/>
<rect x="1468" y="271" width="1" height="1" fill="#000"/>
<rect x="1204" y="272" width="1" height="1" fill="#000"/>
<rect x="1468" y="272" width="1" height="1" fill="#000"/>
<rect x="1204" y="273" width="1" height="1" fill="#000"/>
<rect x="1468" y="273" width="1" height="1" fill="#000"/>
<rect x="1204" y="274" width="1" height="1" fill="#000"/>
<rect x="1468" y="274" width="1" height="1" fill="#000"/>
<rect x="1204" y="275" width="1" height="1" fill="#000"/>
<rect x="1468" y="275" width="1" height="1" fill="#000"/>
<rect x="1204" y="276" width="1" height="1" fill="#000"/>
<rect x="1468" y="276" width="1" height="1" fill="#000"/>
<rect x="1204" y="277" width="1" height="1" fill="#000"/>
<rect x="1468" y="277" width="1" height="1" fill="#000"/>
<rect x="1204" y="278" width="1" height="1" fill="#000"/>
<rect x="1468" y="278" width="1" height="1" fill="#000"/>
<rect x="1204" y="279" width="1" height="1" fill="#000"/>
<rect x="1468" y="279" width="1" height="1" fill="#000"/>
<rect x="1204" y="280" width="1" height="1" fill="#000"/>
<rect x="1468" y="280" width="1" height="1" fill="#000"/>
<rect x="1205" y="281" width="1" height="1" fill="#000"/>
<rect x="1467" y="281" width="1" height="1" fill="#000"/>
<rect x="1205" y="282" width="1" height="1" fill="#000"/>
<rect x="1467" y="282" width="1" height="1" fill="#000"/>
<rect x="1205" y="283" width="1" height="1" fill="#000"/>
<rect x="1467" y="283" width="1" height="1" fill="#000"/>
<rect x="1205" y="284" width="1" height="1" fill="#000"/>
<rect x="1467" y="284" width="1" height="1" fill="#000"/>
<rect x="1205" y="285" width="1" height="1" fill="#000"/>
<rect x="1467" y="285" width="1" height="1" fill="#000"/>
<rect x="1205" y="286" width="1" height="1" fill="#000"/>
<rect x="1467" y="286" width="1" height="1" fill="#000"/>
<rect x="1205" y="287" width="1" height="1" fill="#000"/>
<rect x="1467" y="287" width="1" height="1" fill="#000"/>
<rect x="1206" y="288" width="1" height="1" fill="#000"/>
<rect x="1466" y="288" width="1" height="1" fill="#000"/>
<rect x="1206" y="289" width="1" height="1" fill="#000"/>
<rect x="1466" y="289" width="1" height="1" fill="#000"/>
<rect x="1206" y="290" width="1" height="1" fill="#000"/>
<rect x="1466" y="290" width="1" height="1" fill="#000"/>
<rect x="1206" y="291" width="1" height="1" fill="#000"/>
<rect x="1466" y="291" width="1" height="1" fill="#000"/>
<rect x="1206" y="292" width="1" height="1" fill="#000"/>
<rect x="1466" y="292" width="1" height="1" fill="#000"/>
<rect x="1207" y="293" width="1" height="1" fill="#000"/>
<rect x="1466" y="293" width="1" height="1" fill="#000"/>
<rect x="1207" y="294" width="1" height="1" fill="#000"/>
<rect x="1465" y="294" width="1" height="1" fill="#000"/>
<rect x="1207" y="295" width="1" height="1" fill="#000"/>
<rect x="1465" y="295" width="1" height="1" fill="#000"/>
<rect x="1208" y="296" width="1" height="1" fill="#000"/>
<rect x="1465" y="296" width="1" height="1" fill="#000"/>
<rect x="1208" y="297" width="1" height="1" fill="#000"/>
<rect x="1465" y="297" width="1" height="1" fill="#000"/>
<rect x="1208" y="298" width="1" height="1" fill="#000"/>
<rect x="1464" y="298" width="1" height="1" fill="#000"/>
<rect x="1208" y="299" width="1" height="1" fill="#000"/>
<rect x="1464" y="299" width="1" height="1" fill="#000"/>
<rect x="1209" y="300" width="1" height="1" fill="#000"/>
<rect x="1464" y="300" width="1" height="1" fill="#000"/>
<rect x="1209" y="301" width="1" height="1" fill="#000"/>
<rect x="1464" y="301" width="1" height="1" fill="#000"/>
<rect x="1209" y="302" width="1" height="1" fill="#000"/>
<rect x="1463" y="302" width="1" height="1" fill="#000"/>
<rect x="1210" y="303" width="1" height="1" fill="#000"/>
<rect x="1463" y="303" width="1" height="1" fill="#000"/>
<rect x="1210" y="304" width="1" height="1" fill="#000"/>
<rect x="1463" y="304" width="1" height="1" fill="#000"/>
<rect x="1210" y="305" width="1" height="1" fill="#000"/>
<rect x="1463" y="305" width="1" height="1" fill="#000"/>
<rect x="1211" y="306" width="1" height="1" fill="#000"/>
<rect x="1462" y="306" width="1" height="1" fill="#000"/>
<rect x="1211" y="307" width="1" height="1" fill="#000"/>
<rect x="1462" y="307" width="1" height="1" fill="#000"/>
<rect x="1212" y="308" width="1" height="1" fill="#000"/>
<rect x="1461" y="308" width="1" height="1" fill="#000"/>
<rect x="1212" y="309" width="1" height="1" fill="#000"/>
<rect x="1461" y="309" width="1" height="1" fill="#000"/>
<rect x="1212" y="310" width="1" height="1" fill="#000"/>
<rect x="1461" y="310" width="1" height="1" fill="#000"/>
<rect x="1213" y="311" width="1" height="1" fill="#000"/>
<rect x="1460" y="311" width="1" height="1" fill="#000"/>
<rect x="1213" y="312" width="1" height="1" fill="#000"/>
<rect x="1460" y="312" width="1" height="1" fill="#000"/>
<rect x="1213" y="313" width="1" height="1" fill="#000"/>
<rect x="1460" y="313" width="1" height="1" fill="#000"/>
<rect x="1214" y="314" width="1" height="1" fill="#000"/>
<rect x="1459" y="314" width="1" height="1" fill="#000"/>
<rect x="1214" y="315" width="1" height="1" fill="#000"/>
<rect x="1459" y="315" width="1" height="1" fill="#000"/>
<rect x="1215" y="316" width="1" height="1" fill="#000"/>
<rect x="1458" y="316" width="1" height="1" fill="#000"/>
<rect x="1215" y="317" width="1" height="1" fill="#000"/>
<rect x="1458" y="317" width="1" height="1" fill="#000"/>
<rect x="1215" y="318" width="1" height="1" fill="#000"/>
<rect x="1457" y="318" width="1" height="1" fill="#000"/>
<rect x="1216" y="319" width="1" height="1" fill="#000"/>
<rect x="1457" y="319" width="1" height="1" fill="#000"/>
<rect x="1216" y="320" width="1" height="1" fill="#000"/>
<rect x="1456" y="320" width="1" height="1" fill="#000"/>
<rect x="1217" y="321" width="1" height="1" fill="#000"/>
<rect x="1456" y="321" width="1" height="1" fill="#000"/>
<rect x="1217" y="322" width="1" height="1" fill="#000"/>
<rect x="1455" y="322" width="1" height="1" fill="#000"/>
<rect x="1218" y="323" width="1" height="1" fill="#000"/>
<rect x="1455" y="323" width="1" height="1" fill="#000"/>
<rect x="1218" y="324" width="1" height="1" fill="#000"/>
<rect x="1454" y="324" width="1" height="1" fill="#000"/>
<rect x="1219" y="325" width="1" height="1" fill="#000"/>
<rect x="1454" y="325" width="1" height="1" fill="#000"/>
<rect x="1219" y="326" width="1" height="1" fill="#000"/>
<rect x="1453" y="326" width="1" height="1" fill="#000"/>
<rect x="1220" y="327" width="1" height="1" fill="#000"/>
<rect x="1453" y="327" width="1" height="1" fill="#000"/>
<rect x="1220" y="328" width="1" height="1" fill="#000"/>
<rect x="1452" y="328" width="1" height="1" fill="#000"/>
<rect x="1221" y="329" width="1" height="1" fill="#000"/>
<rect x="1452" y="329" width="1" height="1" fill="#000"/>
<rect x="1221" y="330" width="1" height="1" fill="#000"/>
<rect x="1451" y="330" width="1" height="1" fill="#000"/>
<rect x="1222" y="331" width="1" height="1" fill="#000"/>
<rect x="1450" y="331" width="1" height="1" fill="#000"/>
<rect x="1222" y="332" width="1" height="1" fill="#000"/>
<rect x="1450" y="332" width="1" height="1" fill="#000"/>
<rect x="1223" y="333" width="1" height="1" fill="#000"/>
<rect x="1449" y="333" width="1" height="1" fill="#000"/>
<rect x="1224" y="334" width="1" height="1" fill="#000"/>
<rect x="1448" y="334" width="1" height="1" fill="#000"/>
<rect x="1225" y="335" width="1" height="1" fill="#000"/>
<rect x="1448" y="335" width="1" height="1" fill="#000"/>
<rect x="1225" y="336" width="1" height="1" fill="#000"/>
<rect x="1447" y="336" width="1" height="1" fill="#000"/>
<rect x="1226" y="337" width="1" height="1" fill="#000"/>
<rect x="1447" y="337" width="1" height="1" fill="#000"/>
<rect x="1227" y="338" width="1" height="1" fill="#000"/>
<rect x="1446" y="338" width="1" height="1" fill="#000"/>
<rect x="1228" y="339" width="1" height="1" fill="#000"/>
<rect x="1445" y="339" width="1" height="1" fill="#000"/>
<rect x="1228" y="340" width="1" height="1" fill="#000"/>
<rect x="1445" y="340" width="1" height="1" fill="#000"/>
<rect x="1229" y="341" width="1" height="1" fill="#000"/>
<rect x="1444" y="341" width="1" height="1" fill="#000"/>
<rect x="1230" y="342" width="1" height="1" fill="#000"/>
<rect x="1443" y="342" width="1" height="1" fill="#000"/>
<rect x="1230" y="343" width="1" height="1" fill="#000"/>
<rect x="1442" y="343" width="1" height="1" fill="#000"/>
<rect x="1231" y="344" width="1" height="1" fill="#000"/>
<rect x="1442" y="344" width="1" height="1" fill="#000"/>
<rect x="1232" y="345" width="1" height="1" fill="#000"/>
<rect x="1441" y="345" width="1" height="1" fill="#000"/>
<rect x="1233" y="346" width="1" height="1" fill="#000"/>
<rect x="1440" y="346" width="1" height="1" fill="#000"/>
<rect x="1233" y="347" width="1" height="1" fill="#000"/>
<rect x="1439" y="347" width="1" height="1" fill="#000"/>
<rect x="1234" y="348" width="1" height="1" fill="#000"/>
<rect x="1438" y="348" width="1" height="1" fill="#000"/>
<rect x="1235" y="349" width="1" height="1" fill="#000"/>
<rect x="1437" y="349" width="1" height="1" fill="#000"/>
<rect x="1236" y="350" width="1" height="1" fill="#000"/>
<rect x="1437" y="350" width="1" height="1" fill="#000"/>
<rect x="1236" y="351" width="1" height="1" fill="#000"/>
<rect x="1436" y="351" width="1" height="1" fill="#000"/>
<rect x="1237" y="352" width="1" height="1" fill="#000"/>
<rect x="1435" y="352" width="1" height="1" fill="#000"/>
<rect x="1238" y="353" width="1" height="1" fill="#000"/>
<rect x="1434" y="353" width="1" height="1" fill="#000"/>
<rect x="1239" y="354" width="1" height="1" fill="#000"/>
<rect x="1433" y="354" width="1" height="1" fill="#000"/>
<rect x="1240" y="355" width="1" height="1" fill="#000"/>
<rect x="1432" y="355" width="1" height="1" fill="#000"/>
<rect x="1241" y="356" width="1" height="1" fill="#000"/>
<rect x="1431" y="356" width="1" height="1" fill="#000"/>
<rect x="1242" y="357" width="1" height="1" fill="#000"/>
<rect x="1430" y="357" width="1" height="1" fill="#000"/>
<rect x="1243" y="358" width="1" height="1" fill="#000"/>
<rect x="1429" y="358" width="1" height="1" fill="#000"/>
<rect x="1244" y="359" width="1" height="1" fill="#000"/>
<rect x="1428" y="359" width="1" height="1" fill="#000"/>
<rect x="1245" y="360" width="1" height="1" fill="#000"/>
<rect x="1427" y="360" width="1" height="1" fill="#000"/>
<rect x="1246" y="361" width="1" height="1" fill="#000"/>
<rect x="1426" y="361" width="1" height="1" fill="#000"/>
<rect x="1247" y="362" width="1" height="1" fill="#000"/>
<rect x="1425" y="362" width="1" height="1" fill="#000"/>
<rect x="1248" y="363" width="1" height="1" fill="#000"/>
<rect x="1424" y="363" width="1" height="1" fill="#000"/>
<rect x="1249" y="364" width="2" height="1" fill="#000"/>
<rect x="1422" y="364" width="2" height="1" fill="#000"/>
<rect x="1251" y="365" width="1" height="1" fill="#000"/>
<rect x="1421" y="365" width="1" height="1" fill="#000"/>
<rect x="1252" y="366" width="1" height="1" fill="#000"/>
<rect x="1420" y="366" width="1" height="1" fill="#000"/>
<rect x="1253" y="367" width="1" height="1" fill="#000"/>
<rect x="1419" y="367" width="1" height="1" fill="#000"/>
<rect x="1254" y="368" width="1" height="1" fill="#000"/>
<rect x="1418" y="368" width="1" height="1" fill="#000"/>
<rect x="1255" y="369" width="2" height="1" fill="#000"/>
<rect x="1416" y="369" width="2" height="1" fill="#000"/>
<rect x="1257" y="370" width="1" height="1" fill="#000"/>
<rect x="1415" y="370" width="1" height="1" fill="#000"/>
<rect x="1258" y="371" width="1" height="1" fill="#000"/>
<rect x="1414" y="371" width="1" height="1" fill="#000"/>
<rect x="1259" y="372" width="2" height="1" fill="#000"/>
<rect x="1412" y="372" width="2" height="1" fill="#000"/>
<rect x="1261" y="373" width="2" height="1" fill="#000"/>
<rect x="1411" y="373" width="1" height="1" fill="#000"/>
<rect x="1263" y="374" width="2" height="1" fill="#000"/>
<rect x="1409" y="374" width="2" height="1" fill="#000"/>
<rect x="1265" y="375" width="1" height="1" fill="#000"/>
<rect x="1407" y="375" width="2" height="1" fill="#000"/>
<rect x="1266" y="376" width="2" height="1" fill="#000"/>
<rect x="1406" y="376" width="1" height="1" fill="#000"/>
<rect x="1268" y="377" width="2" height="1" fill="#000"/>
<rect x="1404" y="377" width="2" height="1" fill="#000"/>
<rect x="1270" y="378" width="1" height="1" fill="#000"/>
<rect x="1403" y="378" width="1" height="1" fill="#000"/>
<rect x="1271" y="379" width="2" height="1" fill="#000"/>
<rect x="1401" y="379" width="2" height="1" fill="#000"/>
<rect x="1273" y="380" width="2" height="1" fill="#000"/>
<rect x="1399" y="380" width="2" height="1" fill="#000"/>
<rect x="1275" y="381" width="2" height="1" fill="#000"/>
<rect x="1397" y="381" width="2" height="1" fill="#000"/>
<rect x="1277" y="382" width="1" height="1" fill="#000"/>
<rect x="1395" y="382" width="2" height="1" fill="#000"/>
<rect x="1278" y="383" width="2" height="1" fill="#000"/>
<rect x="1393" y="383" width="2" height="1" fill="#000"/>
<rect x="1280" y="384" width="2" height="1" fill="#000"/>
<rect x="1391" y="384" width="2" height="1" fill="#000"/>
<rect x="1282" y="385" width="2" height="1" fill="#000"/>
<rect x="1389" y="385" width="2" height="1" fill="#000"/>
<rect x="1284" y="386" width="3" height="1" fill="#000"/>
<rect x="1386" y="386" width="3" height="1" fill="#000"/>
<rect x="1287" y="387" width="4" height="1" fill="#000"/>
<rect x="1382" y="387" width="4" height="1" fill="#000"/>
<rect x="1291" y="388" width="3" height="1" fill="#000"/>
<rect x="1379" y="388" width="3" height="1" fill="#000"/>
<rect x="1294" y="389" width="3" height="1" fill="#000"/>
<rect x="1376" y="389" width="3" height="1" fill="#000"/>
<rect x="1297" y="390" width="4" height="1" fill="#000"/>
<rect x="1373" y="390" width="3" height="1" fill="#000"/>
<rect x="1301" y="391" width="3" height="1" fill="#000"/>
<rect x="1369" y="391" width="4" height="1" fill="#000"/>
<rect x="1304" y="392" width="4" height="1" fill="#000"/>
<rect x="1366" y="392" width="3" height="1" fill="#000"/>
<rect x="1308" y="393" width="5" height="1" fill="#000"/>
<rect x="1361" y="393" width="5" height="1" fill="#000"/>
<rect x="1313" y="394" width="6" height="1" fill="#000"/>
<rect x="1354" y="394" width="7" height="1" fill="#000"/>
<rect x="1319" y="395" width="11" height="1" fill="#000"/>
<rect x="1344" y="395" width="10" height="1" fill="#000"/>
<rect x="1330" y="396" width="14" height="1" fill="#000"/>
<rect x="1221" y="100" width="298" height="1" fill="#ff00ff"/>
<rect x="1221" y="396" width="298" height="1" fill="#ff00ff"/>
<rect x="1221" y="100" width="1" height="297" fill="#ff00ff"/>
<rect x="1517" y="100" width="2" height="297" fill="#ff00ff"/>
<rect x="1332" y="211" width="75" height="1" fill="#ff00ff"/>
<rect x="1332" y="285" width="75" height="1" fill="#ff00ff"/>
<rect x="1332" y="211" width="1" height="75" fill="#ff00ff"/>
<rect x="1406" y="211" width="1" height="75" fill="#ff00ff"/>
<rect x="1334" y="212" width="75" height="1" fill="#ff00ff"/>
<rect x="1334" y="286" width="75" height="1" fill="#ff00ff"/>
<rect x="1334" y="212" width="1" height="75" fill="#ff00ff"/>
<rect x="1408" y="212" width="1" height="75" fill="#ff00ff"/>
<polygon points="1358.50,224.60 1361.24,233.03 1369.20,233.03 1362.93,238.24 1365.67,246.67 1358.50,241.46 1351.33,246.67 1354.07,238.24 1347.80,233.03 1355.76,233.03" fill="#ff0000"/>
<polygon points="1234.50,238.60 1237.24,247.03 1245.20,247.03 1238.93,252.24 1241.67,260.67 1234.50,255.46 1227.33,260.67 1230.07,252.24 1223.80,247.03 1231.76,247.03" fill="#ff0000"/>
<polygon points="1242.50,282.60 1245.24,291.03 1253.20,291.03 1246.93,296.24 1249.67,304.67 1242.50,299.46 1235.33,304.67 1238.07,296.24 1231.80,291.03 1239.76,291.03" fill="#ff0000"/>
<polygon points="1267.50,293.60 1270.24,302.03 1278.20,302.03 1271.93,307.24 1274.67,315.67 1267.50,310.46 1260.33,315.67 1263.07,307.24 1256.80,302.03 1264.76,302.03" fill="#ff0000"/>
<polygon points="1255.50,303.30 1258.24,311.73 1266.20,311.73 1259.93,316.94 1262.67,325.37 1255.50,320.16 1248.33,325.37 1251.07,316.94 1244.80,311.73 1252.76,311.73" fill="#ff0000"/>
<polygon points="1297.50,327.60 1300.24,336.03 1308.20,336.03 1301.93,341.24 1304.67,349.67 1297.50,344.46 1290.33,349.67 1293.07,341.24 1286.80,336.03 1294.76,336.03" fill="#ff0000"/>
<polygon points="1365.50,293.60 1368.24,302.03 1376.20,302.03 1369.93,307.24 1372.67,315.67 1365.50,310.46 1358.33,315.67 1361.07,307.24 1354.80,302.03 1362.76,302.03" fill="#ff0000"/>
<polygon points="1448.50,291.60 1451.24,300.03 1459.20,300.03 1452.93,305.24 1455.67,313.67 1448.50,308.46 1441.33,313.67 1444.07,305.24 1437.80,300.03 1445.76,300.03" fill="#ff0000"/>
</g>
<g class="t" filter="url(#a1)">
<text x="184" y="117" font-size="24.5" text-anchor="end" textLength="95.97" lengthAdjust="spacingAndGlyphs">Be_thick</text>
<text x="184" y="164" font-size="24.5" text-anchor="end" textLength="87.8" lengthAdjust="spacingAndGlyphs">Al_thick</text>
<text x="183" y="210" font-size="24.5" text-anchor="end" textLength="84.08" lengthAdjust="spacingAndGlyphs">Al_med</text>
<text x="183" y="256" font-size="24.5" text-anchor="end" textLength="93.27" lengthAdjust="spacingAndGlyphs">Be_med</text>
<text x="183" y="303" font-size="24.5" text-anchor="end" textLength="83.6" lengthAdjust="spacingAndGlyphs">Be_thin</text>
<text x="183" y="349" font-size="24.5" text-anchor="end" textLength="77.27" lengthAdjust="spacingAndGlyphs">C_poly</text>
<text x="183" y="396" font-size="24.5" text-anchor="end" textLength="80.08" lengthAdjust="spacingAndGlyphs">Ti_poly</text>
<text x="183" y="442" font-size="24.5" text-anchor="end" textLength="81.36" lengthAdjust="spacingAndGlyphs">Al_poly</text>
<text x="183" y="488" font-size="24.5" text-anchor="end" textLength="97.33" lengthAdjust="spacingAndGlyphs">Al_mesh</text>
<text x="183" y="535" font-size="24.5" text-anchor="end" textLength="73.56" lengthAdjust="spacingAndGlyphs">Gband</text>
<text x="223.3" y="43" font-size="30.2" text-anchor="start" textLength="827" lengthAdjust="spacingAndGlyphs">Time Interval: 26-Jul-2025 16:00:00 to 26-Jul-2025 17:00:00</text>
<text x="185" y="589" font-size="24.5" text-anchor="end" textLength="53.77" lengthAdjust="spacingAndGlyphs">C1.0</text>
<text x="184" y="1110" font-size="24.5" text-anchor="end" textLength="51.4" lengthAdjust="spacingAndGlyphs">B1.0</text>
<text x="0" y="0" font-size="25.5" text-anchor="middle" textLength="116" lengthAdjust="spacingAndGlyphs" transform="translate(104,839.8) rotate(-90)">GOES flux</text>
<text x="193" y="1151" font-size="24.5" text-anchor="middle" textLength="62.31" lengthAdjust="spacingAndGlyphs">16:00</text>
<text x="341" y="1151" font-size="24.5" text-anchor="middle" textLength="62.31" lengthAdjust="spacingAndGlyphs">16:10</text>
<text x="489" y="1151" font-size="24.5" text-anchor="middle" textLength="62.31" lengthAdjust="spacingAndGlyphs">16:20</text>
<text x="637" y="1151" font-size="24.5" text-anchor="middle" textLength="62.31" lengthAdjust="spacingAndGlyphs">16:30</text>
<text x="785" y="1151" font-size="24.5" text-anchor="middle" textLength="62.31" lengthAdjust="spacingAndGlyphs">16:40</text>
<text x="933" y="1151" font-size="24.5" text-anchor="middle" textLength="62.31" lengthAdjust="spacingAndGlyphs">16:50</text>
</g>
<g class="s" filter="url(#a2)">
<text x="1358.5" y="255" font-size="13.5" text-anchor="middle" textLength="30" lengthAdjust="spacingAndGlyphs">4149</text>
<text x="1234.5" y="269" font-size="13.5" text-anchor="middle" textLength="30" lengthAdjust="spacingAndGlyphs">4156</text>
<text x="1242.5" y="314" font-size="13.5" text-anchor="middle" textLength="30" lengthAdjust="spacingAndGlyphs">4155</text>
<text x="1267.5" y="325" font-size="13.5" text-anchor="middle" textLength="30" lengthAdjust="spacingAndGlyphs">4154</text>
<text x="1255.5" y="334" font-size="13.5" text-anchor="middle" textLength="30" lengthAdjust="spacingAndGlyphs">4157</text>
<text x="1296.5" y="359" font-size="13.5" text-anchor="middle" textLength="30" lengthAdjust="spacingAndGlyphs">4153</text>
<text x="1365.5" y="324" font-size="13.5" text-anchor="middle" textLength="30" lengthAdjust="spacingAndGlyphs">4150</text>
<text x="1448.5" y="322" font-size="13.5" text-anchor="middle" textLength="30" lengthAdjust="spacingAndGlyphs">4158</text>
</g>
</svg>
</body></html>
